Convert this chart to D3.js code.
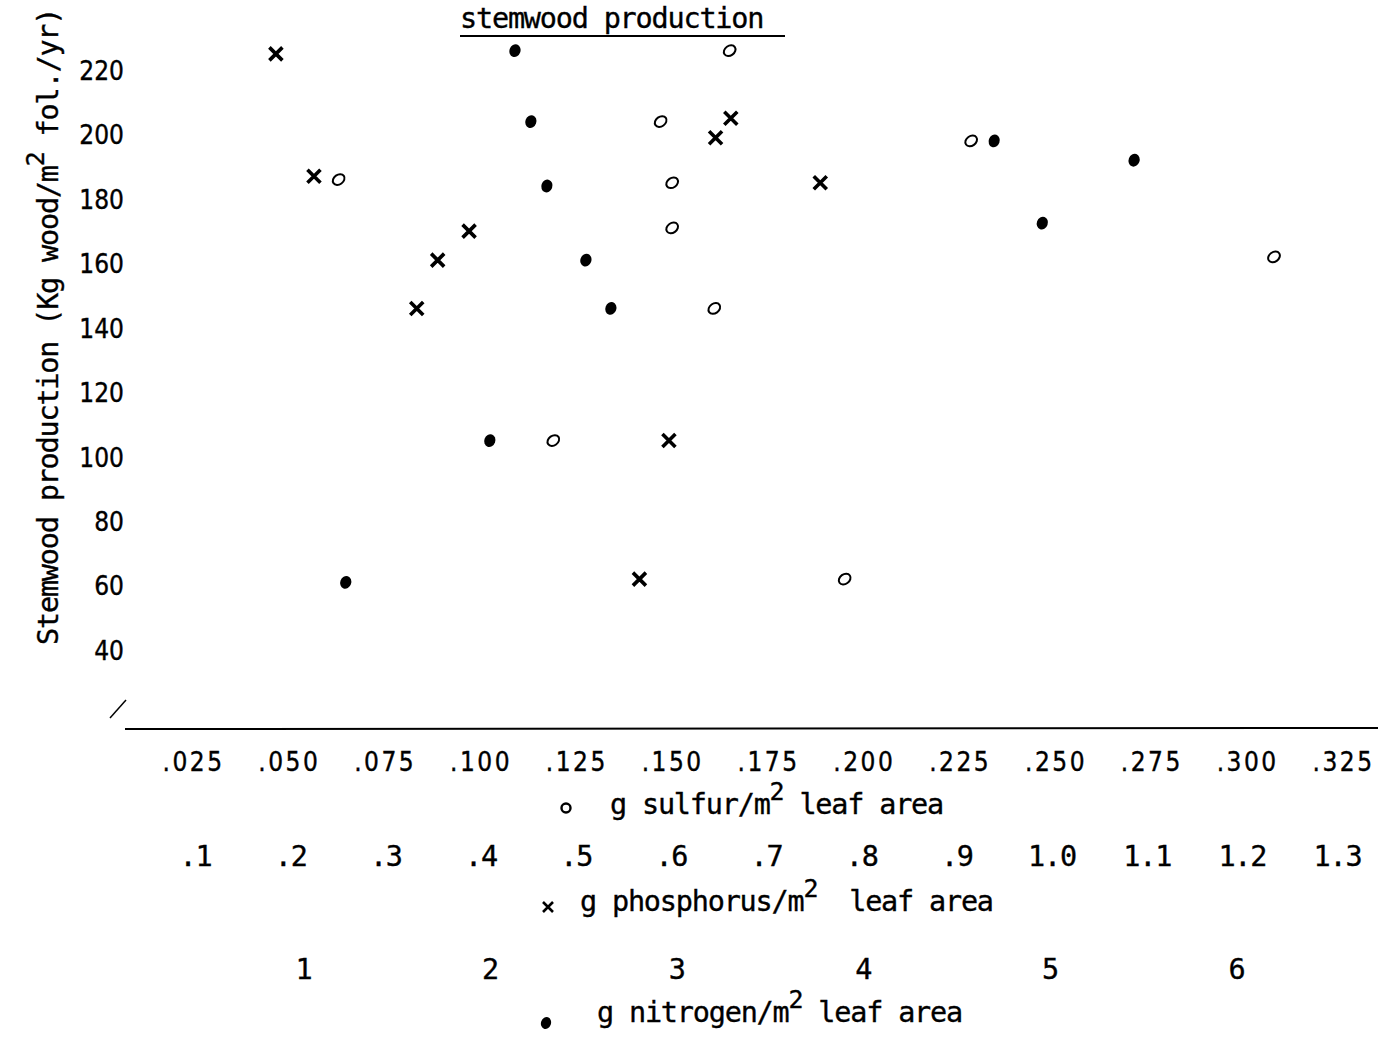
<!DOCTYPE html>
<html>
<head>
<meta charset="utf-8">
<script src="https://cdn.jsdelivr.net/npm/d3@7"></script>
<style>
  body { margin: 0; background: #fff; }
  text { fill: #000; stroke: #000; stroke-width: 0.35px; }
  .mono { font-family: "DejaVu Sans Mono", monospace; font-size: 28.5px; letter-spacing: -1.2px; }
  .cond { font-family: "DejaVu Sans Condensed", "DejaVu Sans", sans-serif; font-stretch: condensed; font-size: 26px; }
  .wide { letter-spacing: 2.5px; }
</style>
</head>
<body>
<svg id="chart" width="1381" height="1038"></svg>
<script>
// stemwood production vs. foliar nutrient content (three x scales, one y)

var yTicks = [40, 60, 80, 100, 120, 140, 160, 180, 200, 220];

var sulfurTicks = [.025, .050, .075, .100, .125, .150, .175, .200, .225, .250, .275, .300, .325];
var sulfurLabels = [".025", ".050", ".075", ".100", ".125", ".150", ".175", ".200", ".225", ".250", ".275", ".300", ".325"];

var phosTicks = [.1, .2, .3, .4, .5, .6, .7, .8, .9, 1.0, 1.1, 1.2, 1.3];
var phosLabels = [".1", ".2", ".3", ".4", ".5", ".6", ".7", ".8", ".9", "1.0", "1.1", "1.2", "1.3"];

var nitroTicks = [1, 2, 3, 4, 5, 6];
var nitroLabels = ["1", "2", "3", "4", "5", "6"];

// open circles: g sulfur/m2
var sulfurX = [0.063, 0.165, 0.147, 0.150, 0.150, 0.161, 0.119, 0.195, 0.228, 0.307];
var sulfurY = [186, 226, 204, 185, 171, 146, 105, 62, 198, 162];

// crosses: g phosphorus/m2
var phosX = [0.185, 0.225, 0.333, 0.355, 0.388, 0.663, 0.647, 0.757, 0.598, 0.567];
var phosY = [225, 187, 146, 161, 170, 205, 199, 185, 105, 62];

// dots: g nitrogen/m2
var nitroX = [2.136, 2.221, 2.307, 2.516, 2.650, 2.001, 1.229, 4.704, 4.962, 5.454];
var nitroY = [226, 204, 184, 161, 146, 105, 61, 198, 172.5, 192];

var svg = d3.select("#chart");

var y = d3.scaleLinear().domain([40, 220]).range([650, 70]);
var xS = d3.scaleLinear().domain([0.025, 0.325]).range([193, 1343]);
var xP = d3.scaleLinear().domain([0.1, 1.3]).range([195, 1337]);
var xN = d3.scaleLinear().domain([1, 6]).range([303, 1236]);

var axisY = 729;

// title
svg.append("text")
    .attr("class", "mono")
    .attr("x", 460)
    .attr("y", 28)
    .text("stemwood production");
svg.append("line")
    .attr("x1", 460).attr("x2", 785)
    .attr("y1", 36).attr("y2", 36)
    .attr("stroke", "#000").attr("stroke-width", 2);

// y axis (labels only)
var gy = svg.append("g")
    .attr("transform", "translate(124,0)")
    .call(d3.axisLeft(y).tickValues(yTicks).tickSize(0).tickPadding(0));
gy.select(".domain").remove();
gy.attr("font-family", null).attr("font-size", null);
gy.selectAll("text").attr("class", "cond").attr("dy", "0.36em");

var ylab = svg.append("text")
    .attr("class", "mono")
    .attr("transform", "translate(58,645) rotate(-90)");
ylab.append("tspan").text("Stemwood production (Kg wood/m");
ylab.append("tspan").attr("dy", -14).style("font-size", "25px").text("2");
ylab.append("tspan").attr("dy", 14).text(" fol./yr)");

// baseline with break mark
svg.append("line")
    .attr("x1", 125).attr("x2", 1378)
    .attr("y1", axisY).attr("y2", axisY - 1)
    .attr("stroke", "#000").attr("stroke-width", 2);
svg.append("line")
    .attr("x1", 110).attr("y1", 718)
    .attr("x2", 126).attr("y2", 700)
    .attr("stroke", "#000").attr("stroke-width", 1.5);

// three rows of x labels
function xRow(scale, ticks, labels, baseY, cls) {
  var g = svg.append("g")
      .attr("transform", "translate(0," + baseY + ")")
      .call(d3.axisBottom(scale).tickValues(ticks)
        .tickFormat(function(d, i) { return labels[i]; })
        .tickSize(0).tickPadding(0));
  g.select(".domain").remove();
  g.attr("font-family", null).attr("font-size", null);
  g.selectAll("text").attr("class", cls).attr("y", 0).attr("dy", 0);
  return g;
}
xRow(xS, sulfurTicks, sulfurLabels, 771, "cond wide");
xRow(xP, phosTicks, phosLabels, 866, "mono");
xRow(xN, nitroTicks, nitroLabels, 979, "mono");

function axisTitle(x, yy, before, spaces) {
  var t = svg.append("text").attr("class", "mono").attr("x", x).attr("y", yy)
      .style("white-space", "pre");
  t.append("tspan").text(before);
  t.append("tspan").attr("dy", -14).style("font-size", "25px").text("2");
  t.append("tspan").attr("dy", 14).text(spaces + "leaf area");
}
axisTitle(610, 814, "g sulfur/m", " ");
axisTitle(580, 911, "g phosphorus/m", "  ");
axisTitle(597, 1022, "g nitrogen/m", " ");

// marker shapes
function openMark(sel) {
  sel.append("ellipse").attr("rx", 6.3).attr("ry", 4.8)
      .attr("transform", "rotate(-35)")
      .attr("fill", "none").attr("stroke", "#000").attr("stroke-width", 2);
}
function crossMark(sel, s, w) {
  sel.append("path")
      .attr("d", "M" + (-s) + "," + (-s) + "L" + s + "," + s + "M" + (-s) + "," + s + "L" + s + "," + (-s))
      .attr("stroke", "#000").attr("stroke-width", w).attr("fill", "none");
}
function dotMark(sel) {
  sel.append("ellipse").attr("rx", 5.5).attr("ry", 6.5)
      .attr("transform", "rotate(20)")
      .attr("fill", "#000");
}

var sData = sulfurX.map(function(d, i) { return {x: d, y: sulfurY[i]}; });
var pData = phosX.map(function(d, i) { return {x: d, y: phosY[i]}; });
var nData = nitroX.map(function(d, i) { return {x: d, y: nitroY[i]}; });

svg.append("g").selectAll("g").data(sData).enter().append("g")
    .attr("transform", function(d) { return "translate(" + xS(d.x) + "," + y(d.y) + ")"; })
    .call(openMark);

svg.append("g").selectAll("g").data(pData).enter().append("g")
    .attr("transform", function(d) { return "translate(" + xP(d.x) + "," + y(d.y) + ")"; })
    .each(function() { crossMark(d3.select(this), 6.5, 3.6); });

svg.append("g").selectAll("g").data(nData).enter().append("g")
    .attr("transform", function(d) { return "translate(" + xN(d.x) + "," + y(d.y) + ")"; })
    .call(dotMark);

// legend glyphs next to the axis titles
svg.append("circle").attr("cx", 566).attr("cy", 808).attr("r", 4.5)
    .attr("fill", "none").attr("stroke", "#000").attr("stroke-width", 2.4);
crossMark(svg.append("g").attr("transform", "translate(548,907)"), 5, 2.6);
svg.append("ellipse").attr("cx", 546).attr("cy", 1023).attr("rx", 5).attr("ry", 6)
    .attr("transform", "rotate(20,546,1023)").attr("fill", "#000");
</script>
</body>
</html>
